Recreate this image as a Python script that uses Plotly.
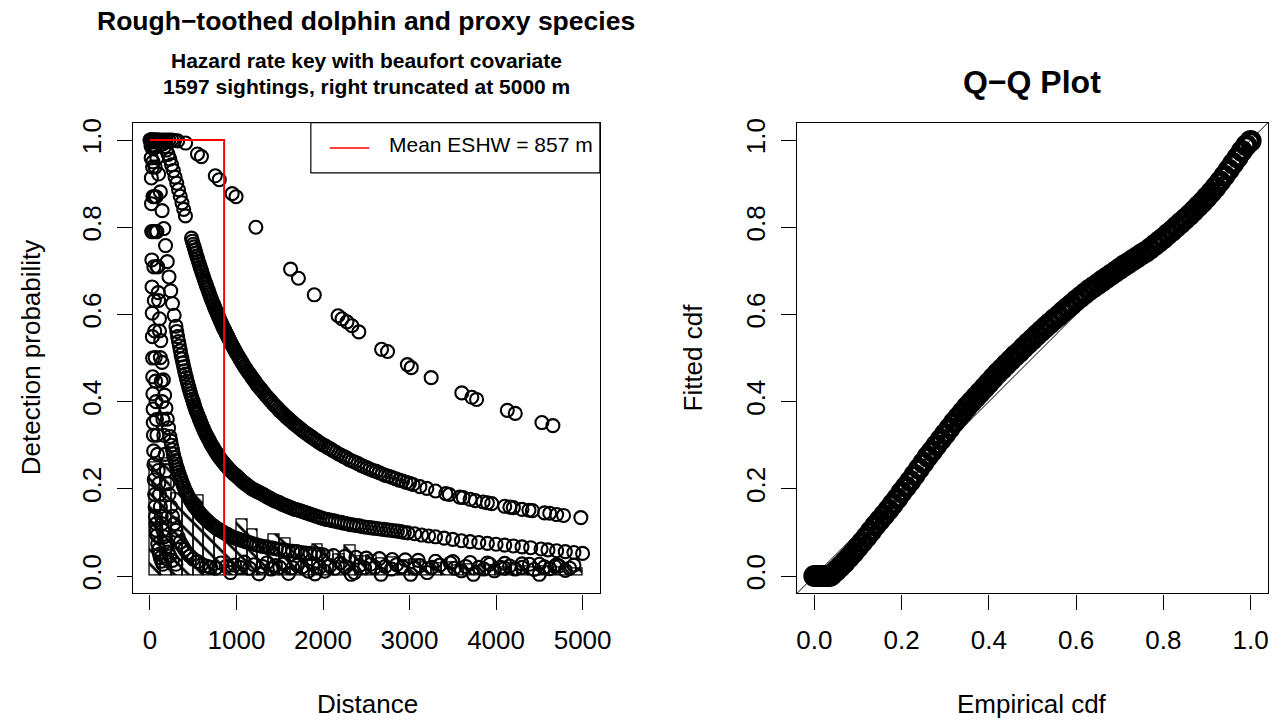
import plotly.graph_objects as go

W, H = 1288, 721
FONT = "Liberation Sans, Arial, Helvetica, sans-serif"

# ---------------- data ----------------
eshw_m = 857
bin_width = 125
hist_bin_start = [i * bin_width for i in range(40)]
hist_height = [0.26, 0.27, 0.19, 0.19, 0.185, 0.12, 0.09, 0.085, 0.13, 0.106,
               0.075, 0.095, 0.086, 0.065, 0.06, 0.073, 0.055, 0.05, 0.071, 0.045,
               0.048, 0.04, 0.042, 0.035, 0.038, 0.03, 0.028, 0.032, 0.025, 0.027,
               0.022, 0.024, 0.02, 0.023, 0.021, 0.02, 0.022, 0.019, 0.02, 0.018]

curveA_dist = [0, 25, 50, 75, 100, 130, 160, 190, 220, 252, 285, 320, 412, 549, 595, 755, 801,
               950, 995, 1224, 1625, 1716, 1899, 2174, 2220, 2277, 2334, 2414, 2677, 2746, 2975,
               3020, 3250, 3604, 3720, 3775, 4130, 4222, 4530, 4657]
curveA_prob = [1.0, 1.0, 1.0, 1.0, 1.0, 1.0, 1.0, 1.0, 1.0, 1.0, 0.999, 0.998, 0.993, 0.968, 0.962,
               0.918, 0.909, 0.877, 0.87, 0.80, 0.704, 0.683, 0.645, 0.597, 0.59, 0.583, 0.574, 0.56,
               0.52, 0.515, 0.485, 0.478, 0.455, 0.42, 0.41, 0.405, 0.38, 0.373, 0.352, 0.345]

curveB_dist = [10, 30, 50, 70, 90, 110, 130, 150, 170, 190, 210, 230, 250, 270, 290, 310, 330, 350,
               370, 390, 410, 480, 500, 520, 540, 560, 580, 600, 620, 640, 660, 680, 700, 720, 740,
               760, 780, 800, 820, 840, 860, 880, 900, 925, 950, 975, 1000, 1030, 1060, 1090, 1120,
               1150, 1180, 1210, 1240, 1270, 1300, 1340, 1380, 1420, 1460, 1500, 1540, 1580, 1620,
               1660, 1700, 1750, 1800, 1850, 1900, 1950, 2000, 2060, 2120, 2180, 2240, 2300, 2370,
               2440, 2510, 2580, 2650, 2720, 2800, 2880, 2960, 3040, 3120, 3200, 3300, 3420, 3460,
               3580, 3620, 3700, 3760, 3850, 3900, 3950, 4100, 4160, 4200, 4300, 4380, 4420, 4560,
               4620, 4700, 4780, 4980]
curveB_prob = [1.0, 1.0, 1.0, 1.0, 1.0, 0.998, 0.996, 0.991, 0.985, 0.977, 0.967, 0.956, 0.943,
               0.930, 0.915, 0.901, 0.886, 0.871, 0.856, 0.841, 0.826, 0.775, 0.761, 0.748, 0.734,
               0.722, 0.709, 0.697, 0.685, 0.673, 0.662, 0.651, 0.640, 0.630, 0.620, 0.610, 0.601,
               0.591, 0.582, 0.573, 0.565, 0.557, 0.549, 0.539, 0.529, 0.520, 0.511, 0.501, 0.491,
               0.481, 0.472, 0.464, 0.455, 0.447, 0.438, 0.431, 0.424, 0.414, 0.405, 0.396, 0.388,
               0.379, 0.372, 0.364, 0.357, 0.350, 0.344, 0.336, 0.328, 0.321, 0.314, 0.307, 0.301,
               0.294, 0.287, 0.280, 0.274, 0.267, 0.261, 0.254, 0.248, 0.242, 0.237, 0.231, 0.226,
               0.220, 0.215, 0.210, 0.205, 0.201, 0.195, 0.189, 0.187, 0.181, 0.180, 0.176, 0.173,
               0.170, 0.168, 0.166, 0.160, 0.158, 0.157, 0.153, 0.151, 0.150, 0.145, 0.144, 0.141,
               0.139, 0.134]
curveB_more_dist = [490, 510, 530, 550, 570, 590, 610, 630, 650, 670, 690, 710, 730, 750, 770, 790,
                    810, 830, 850, 870, 890, 912, 937, 962, 987, 1015, 1045, 1075, 1105, 1135, 1165,
                    1195, 1225, 1255, 1285, 1320, 1360, 1400, 1440, 1480, 1520, 1560, 1600, 1640,
                    1680, 1725, 1775, 1825, 1875, 1925, 1975, 2030, 2090, 2150, 2210, 2270, 2335,
                    2405, 2475, 2545, 2615, 2685, 2760, 2840, 2920, 3000]
curveB_more_prob = [0.768, 0.755, 0.741, 0.728, 0.716, 0.703, 0.691, 0.679, 0.668, 0.657, 0.646,
                    0.635, 0.625, 0.615, 0.606, 0.596, 0.587, 0.578, 0.569, 0.561, 0.553, 0.544,
                    0.534, 0.525, 0.516, 0.506, 0.496, 0.486, 0.477, 0.468, 0.460, 0.451, 0.443,
                    0.435, 0.428, 0.419, 0.410, 0.401, 0.392, 0.384, 0.376, 0.368, 0.361, 0.354,
                    0.347, 0.340, 0.332, 0.325, 0.318, 0.311, 0.304, 0.298, 0.291, 0.284, 0.277,
                    0.271, 0.264, 0.258, 0.251, 0.245, 0.240, 0.234, 0.229, 0.223, 0.218, 0.213]

curveC_dist = [20, 40, 60, 80, 100, 120, 140, 160, 180, 200, 220, 240, 260, 280, 300, 320, 340, 360,
               380, 400, 420, 440, 460, 480, 500, 520, 540, 560, 580, 600, 620, 640, 660, 680, 700,
               720, 740, 760, 780, 800, 830, 860, 890, 920, 950, 980, 1010, 1040, 1080, 1120, 1160,
               1200, 1240, 1280, 1320, 1360, 1400, 1450, 1500, 1550, 1600, 1650, 1700, 1760, 1820,
               1880, 1940, 2000, 2070, 2140, 2210, 2280, 2350, 2420, 2500, 2580, 2660, 2740, 2820,
               2900, 2980, 3060, 3140, 3220, 3300, 3400, 3500, 3600, 3700, 3800, 3900, 4000, 4100,
               4200, 4300, 4400, 4520, 4600, 4700, 4800, 4900, 5000]
curveC_prob = [1.0, 0.998, 0.986, 0.959, 0.922, 0.881, 0.838, 0.797, 0.758, 0.721, 0.686, 0.654,
               0.625, 0.598, 0.573, 0.549, 0.528, 0.507, 0.489, 0.471, 0.455, 0.440, 0.425, 0.412,
               0.400, 0.387, 0.376, 0.366, 0.356, 0.346, 0.337, 0.328, 0.320, 0.313, 0.305, 0.298,
               0.292, 0.285, 0.279, 0.273, 0.265, 0.258, 0.251, 0.244, 0.238, 0.233, 0.228, 0.222,
               0.215, 0.209, 0.203, 0.198, 0.194, 0.190, 0.186, 0.181, 0.177, 0.172, 0.168, 0.163,
               0.159, 0.155, 0.152, 0.148, 0.144, 0.140, 0.136, 0.132, 0.129, 0.126, 0.123, 0.120,
               0.117, 0.115, 0.112, 0.110, 0.108, 0.106, 0.104, 0.102, 0.099, 0.097, 0.094, 0.092,
               0.090, 0.087, 0.084, 0.081, 0.079, 0.077, 0.075, 0.073, 0.071, 0.069, 0.067, 0.065,
               0.062, 0.060, 0.058, 0.056, 0.054, 0.052]
curveC_more_dist = [310, 330, 350, 370, 390, 410, 430, 450, 470, 490, 510, 530, 550, 570, 590, 610,
                    630, 650, 670, 690, 710, 730, 750, 770, 790, 815, 845, 875, 905, 935, 965, 995,
                    1025, 1060, 1100, 1140, 1180, 1220, 1260, 1300, 1340, 1380, 1425, 1475, 1525,
                    1575, 1625, 1675, 1730, 1790, 1850, 1910, 1970, 2035, 2105, 2175, 2245, 2315,
                    2385, 2460, 2540, 2620, 2700, 2780, 2860, 2940]
curveC_more_prob = [0.561, 0.538, 0.517, 0.498, 0.480, 0.463, 0.447, 0.432, 0.418, 0.406, 0.393,
                    0.381, 0.371, 0.361, 0.351, 0.341, 0.332, 0.324, 0.316, 0.309, 0.301, 0.295,
                    0.288, 0.282, 0.276, 0.269, 0.261, 0.254, 0.247, 0.241, 0.235, 0.230, 0.225,
                    0.218, 0.212, 0.206, 0.200, 0.196, 0.192, 0.188, 0.183, 0.179, 0.174, 0.170,
                    0.165, 0.161, 0.157, 0.153, 0.150, 0.146, 0.142, 0.138, 0.134, 0.130, 0.127,
                    0.124, 0.121, 0.118, 0.116, 0.113, 0.111, 0.109, 0.107, 0.105, 0.103, 0.100]

curveD_dist = [20, 35, 50, 65, 80, 95, 110, 125, 140, 155, 170, 185, 200, 215, 230, 250, 270, 290,
               310, 330, 350, 375, 400, 425, 450, 480, 510, 540, 570, 600, 640, 680, 720, 760, 800,
               850, 900, 950, 1000, 1060, 1120, 1190, 1260, 1340, 1420, 1500, 1600, 1700, 1800,
               1900, 2000, 2120, 2250, 2380, 2500, 2650, 2800, 2950, 3100, 3300, 3500, 3700, 3900,
               4100, 4300, 4500, 4700, 4900]
curveD_prob = [0.995, 0.95, 0.87, 0.79, 0.71, 0.65, 0.59, 0.54, 0.49, 0.45, 0.415, 0.385, 0.36,
               0.34, 0.32, 0.30, 0.28, 0.265, 0.25, 0.238, 0.226, 0.213, 0.201, 0.19, 0.18, 0.17,
               0.161, 0.153, 0.146, 0.139, 0.131, 0.124, 0.117, 0.111, 0.106, 0.10, 0.095, 0.09,
               0.086, 0.082, 0.078, 0.074, 0.07, 0.067, 0.064, 0.061, 0.058, 0.056, 0.053, 0.051,
               0.049, 0.047, 0.045, 0.043, 0.041, 0.04, 0.038, 0.037, 0.036, 0.034, 0.033, 0.031,
               0.03, 0.029, 0.028, 0.027, 0.026, 0.025]
curveD_more_dist = [240, 260, 280, 300, 320, 340, 362, 387, 412, 437, 465, 495, 525, 555, 585, 620,
                    660, 700, 740, 780, 825, 875, 925, 975, 1030, 1090, 1155, 1225, 1300, 1380,
                    1460, 1550, 1650, 1750, 1850, 1950]
curveD_more_prob = [0.31, 0.29, 0.272, 0.257, 0.244, 0.232, 0.22, 0.207, 0.195, 0.185, 0.175,
                    0.165, 0.157, 0.15, 0.142, 0.135, 0.127, 0.12, 0.114, 0.108, 0.103, 0.097,
                    0.092, 0.088, 0.084, 0.08, 0.076, 0.072, 0.068, 0.065, 0.062, 0.06, 0.057,
                    0.054, 0.052, 0.05]

curveE_dist = [20, 40, 50, 60, 70, 80, 90, 100, 110, 120, 130, 140, 150, 160, 175, 190, 205, 220,
               240, 260, 280, 300, 325, 350, 375, 400, 430, 460, 500, 550, 600, 650, 700]
curveE_prob = [1.0, 0.998, 0.982, 0.938, 0.870, 0.790, 0.709, 0.632, 0.562, 0.501, 0.447, 0.400,
               0.359, 0.323, 0.279, 0.242, 0.212, 0.187, 0.159, 0.137, 0.120, 0.105, 0.090, 0.078,
               0.069, 0.061, 0.053, 0.046, 0.039, 0.033, 0.027, 0.023, 0.020]

curveG_dist = [20, 25, 30, 35, 40, 45, 50, 55, 60, 65, 70, 75, 80, 87, 95, 102, 110, 120, 130, 140,
               150, 162, 175, 190, 210, 230, 260, 300]
curveG_prob = [1.0, 0.982, 0.938, 0.870, 0.790, 0.709, 0.632, 0.562, 0.501, 0.447, 0.400, 0.359,
               0.323, 0.279, 0.242, 0.212, 0.187, 0.159, 0.137, 0.120, 0.105, 0.090, 0.078, 0.067,
               0.055, 0.046, 0.036, 0.027]

curveF_dist = [8, 10, 12, 14, 16, 18, 20, 22, 24, 26, 28, 30, 32, 34, 36, 38, 40, 43, 46, 50, 55,
               60, 65, 70, 75, 80, 90, 100, 110, 120, 135, 150]
curveF_prob = [1.0, 0.998, 0.987, 0.959, 0.913, 0.854, 0.79, 0.725, 0.663, 0.603, 0.549, 0.5,
               0.457, 0.418, 0.383, 0.352, 0.323, 0.287, 0.256, 0.221, 0.187, 0.159, 0.137, 0.12,
               0.105, 0.093, 0.074, 0.061, 0.05, 0.042, 0.034, 0.027]

low_dist = [700, 760, 820, 880, 930, 980, 1040, 1090, 1150, 1200, 1259, 1300, 1350, 1400, 1450,
            1500, 1550, 1602, 1650, 1700, 1760, 1831, 1880, 1907, 1960, 2021, 2080, 2140, 2200,
            2260, 2326, 2365, 2420, 2480, 2550, 2600, 2670, 2720, 2790, 2850, 2920, 3013, 3060,
            3120, 3204, 3260, 3350, 3471, 3520, 3600, 3650, 3738, 3800, 3860, 3928, 3980, 4050,
            4100, 4157, 4220, 4300, 4386, 4440, 4500, 4560, 4620, 4680, 4729, 4800, 4850]
low_prob = [0.02, 0.018, 0.03, 0.022, 0.008, 0.025, 0.02, 0.032, 0.018, 0.026, 0.005, 0.022, 0.03,
            0.016, 0.024, 0.02, 0.028, 0.006, 0.019, 0.025, 0.021, 0.011, 0.027, 0.005, 0.02, 0.011,
            0.024, 0.018, 0.03, 0.021, 0.004, 0.008, 0.024, 0.019, 0.027, 0.02, 0.004, 0.022,
            0.016, 0.026, 0.021, 0.004, 0.018, 0.024, 0.008, 0.02, 0.025, 0.03, 0.018, 0.012,
            0.022, 0.004, 0.02, 0.016, 0.027, 0.012, 0.02, 0.018, 0.023, 0.016, 0.02, 0.027, 0.015,
            0.004, 0.021, 0.017, 0.022, 0.023, 0.013, 0.018]

qq_empirical = [0.000, 0.005, 0.010, 0.015, 0.020, 0.025, 0.030, 0.035,
                0.04, 0.05, 0.06, 0.07, 0.08, 0.09, 0.10, 0.11, 0.12, 0.13, 0.14, 0.15, 0.16, 0.17,
                0.18, 0.19, 0.20, 0.21, 0.22, 0.23, 0.24, 0.25, 0.26, 0.27, 0.28, 0.29, 0.30, 0.31,
                0.32, 0.33, 0.34, 0.35, 0.36, 0.37, 0.38, 0.39, 0.40, 0.41, 0.42, 0.43, 0.44, 0.45,
                0.46, 0.47, 0.48, 0.49, 0.50, 0.51, 0.52, 0.53, 0.54, 0.55, 0.56, 0.57, 0.58, 0.59,
                0.60, 0.61, 0.62, 0.63, 0.64, 0.65, 0.66, 0.67, 0.68, 0.69, 0.70, 0.71, 0.72, 0.73,
                0.74, 0.75, 0.76, 0.77, 0.78, 0.79, 0.80, 0.81, 0.82, 0.83, 0.84, 0.85, 0.86, 0.87,
                0.88, 0.89, 0.90, 0.91, 0.92, 0.93, 0.94, 0.95, 0.96, 0.97, 0.98, 0.99, 1.00]
qq_fitted = [0.0, 0.0, 0.0, 0.0, 0.0, 0.0, 0.0, 0.0,
             0.003, 0.012, 0.022, 0.032, 0.043, 0.054, 0.066, 0.078, 0.09, 0.103, 0.116, 0.128,
             0.14, 0.152, 0.165, 0.178, 0.192, 0.205, 0.218, 0.232, 0.246, 0.26, 0.274, 0.287, 0.3,
             0.313, 0.326, 0.339, 0.352, 0.364, 0.376, 0.388, 0.399, 0.41, 0.421, 0.432, 0.443,
             0.454, 0.465, 0.475, 0.485, 0.495, 0.505, 0.514, 0.524, 0.534, 0.543, 0.553, 0.562,
             0.571, 0.58, 0.589, 0.597, 0.606, 0.615, 0.623, 0.632, 0.64, 0.648, 0.656, 0.663,
             0.67, 0.677, 0.684, 0.691, 0.698, 0.705, 0.712, 0.718, 0.725, 0.731, 0.738, 0.744,
             0.751, 0.759, 0.767, 0.775, 0.784, 0.792, 0.801, 0.81, 0.819, 0.828, 0.838, 0.848,
             0.858, 0.869, 0.88, 0.892, 0.905, 0.918, 0.932, 0.946, 0.96, 0.975, 0.988, 0.998]

dist_ticks = [0, 1000, 2000, 3000, 4000, 5000]
prob_ticks = [0.0, 0.2, 0.4, 0.6, 0.8, 1.0]

# ---------------- layout constants ----------------
dist_range = [-200, 5200]
prob_range = [-0.04, 1.04]
qq_range = [-0.04, 1.04]

def px_x(p):
    return p / W

def px_y(p):
    return 1 - p / H

fig = go.Figure()

# histogram (hatched)
fig.add_trace(go.Bar(
    x=[s + bin_width / 2 for s in hist_bin_start], y=hist_height, width=bin_width,
    marker=dict(color="rgba(0,0,0,0)", line=dict(color="black", width=1.3),
                pattern=dict(shape="\\", fgcolor="black", bgcolor="rgba(0,0,0,0)",
                             size=10, solidity=0.28, fillmode="replace")),
    xaxis="x", yaxis="y", showlegend=False, hoverinfo="skip"))

pt_marker = dict(symbol="circle-open", size=13, color="black", line=dict(width=2.1, color="black"))
for dd, pp in [(curveA_dist, curveA_prob), (curveB_dist, curveB_prob),
               (curveB_more_dist, curveB_more_prob), (curveC_dist, curveC_prob),
               (curveC_more_dist, curveC_more_prob), (curveD_dist, curveD_prob),
               (curveD_more_dist, curveD_more_prob), (curveE_dist, curveE_prob),
               (curveG_dist, curveG_prob), (curveF_dist, curveF_prob), (low_dist, low_prob)]:
    fig.add_trace(go.Scatter(x=dd, y=pp, mode="markers", marker=pt_marker,
                             xaxis="x", yaxis="y", showlegend=False, hoverinfo="skip"))

# ESHW box line
fig.add_trace(go.Scatter(x=[0, eshw_m, eshw_m], y=[prob_ticks[-1], prob_ticks[-1], prob_ticks[0]],
                         mode="lines", line=dict(color="red", width=2),
                         xaxis="x", yaxis="y", showlegend=False, hoverinfo="skip"))

# QQ
fig.add_trace(go.Scatter(x=qq_range, y=qq_range, mode="lines", line=dict(color="black", width=1),
                         xaxis="x2", yaxis="y2", showlegend=False, hoverinfo="skip"))
fig.add_trace(go.Scatter(x=qq_empirical, y=qq_fitted, mode="markers",
                         marker=dict(symbol="circle-open", size=17, color="black",
                                     line=dict(width=5, color="black")),
                         xaxis="x2", yaxis="y2", showlegend=False, hoverinfo="skip"))

box_top, box_bot = 118.4, 592.6
axis_common = dict(showline=True, mirror=True, linecolor="black", linewidth=1.2,
                   ticks="outside", ticklen=15, tickwidth=1.2, tickcolor="black",
                   showgrid=False, zeroline=False,
                   tickfont=dict(family=FONT, size=26, color="black"))

fig.update_layout(
    width=W, height=H, margin=dict(l=0, r=0, t=0, b=0),
    paper_bgcolor="white", plot_bgcolor="white", bargap=0,
    xaxis=dict(domain=[px_x(133), px_x(605)], range=dist_range, anchor="y",
               tickmode="array", tickvals=dist_ticks, ticklabelstandoff=8, **axis_common),
    yaxis=dict(domain=[px_y(box_bot), px_y(box_top)], range=prob_range, anchor="x",
               tickmode="array", tickvals=prob_ticks, tickformat=".1f", tickangle=-90,
               ticklabelstandoff=5, **axis_common),
    xaxis2=dict(domain=[px_x(804), px_x(1280)], range=qq_range, anchor="y2",
                tickmode="array", tickvals=prob_ticks, tickformat=".1f", ticklabelstandoff=8,
                **axis_common),
    yaxis2=dict(domain=[px_y(box_bot), px_y(box_top)], range=qq_range, anchor="x2",
                tickmode="array", tickvals=prob_ticks, tickformat=".1f", tickangle=-90,
                ticklabelstandoff=5, **axis_common),
)

# legend box (drawn as in R)
fig.add_shape(type="rect", xref="paper", yref="paper", x0=px_x(313), x1=px_x(605),
              y0=px_y(169), y1=px_y(box_top), line=dict(color="black", width=1.2),
              fillcolor="white", layer="above")
fig.add_shape(type="line", xref="paper", yref="paper", x0=px_x(332), x1=px_x(372),
              y0=px_y(144), y1=px_y(144), line=dict(color="red", width=1.5), layer="above")

ann = []
def text(x, y, s, size, bold=False, angle=0, xanchor="center"):
    ann.append(dict(x=px_x(x), y=px_y(y), xref="paper", yref="paper", text=(f"<b>{s}</b>" if bold else s),
                    showarrow=False, xanchor=xanchor, yanchor="middle", textangle=angle,
                    font=dict(family=FONT, size=size, color="black")))

text(390, 140, f"Mean ESHW = {eshw_m} m", 21, xanchor="left")
text(369, 16, "Rough\u2212toothed dolphin and proxy species", 26.5, bold=True)
text(369, 56, "Hazard rate key with beaufort covariate", 21, bold=True)
text(369, 82, "1597 sightings, right truncated at 5000 m", 21, bold=True)
text(1042, 78, "Q\u2212Q Plot", 32, bold=True)
text(370, 704, "Distance", 26)
text(1042, 704, "Empirical cdf", 26)
text(30, 355, "Detection probability", 26, angle=-90)
text(699, 355, "Fitted cdf", 26, angle=-90)
fig.update_layout(annotations=ann)

fig.write_html("out.html")
